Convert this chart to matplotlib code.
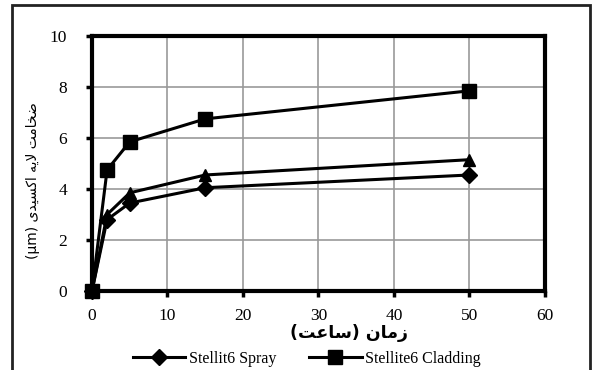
import matplotlib.pyplot as plt
from matplotlib.lines import Line2D
from matplotlib.patches import Rectangle

# oxidation time (h) and oxide layer thickness (um)
hours = [0, 2, 5, 15, 50]
spray = [0, 2.8, 3.45, 4.05, 4.55]
cladding = [0, 4.75, 5.85, 6.75, 7.85]
third = [0, 3.0, 3.85, 4.55, 5.15]

labels = ["Stellit6 Spray", "Stellite6 Cladding"]
xticks = [0, 10, 20, 30, 40, 50, 60]
yticks = [0, 2, 4, 6, 8, 10]

# persian labels written as shaped glyphs in visual order
xlabel = ("(\uFE96\uFECB\uFE8E\uFEB3) "
          "\uFEE5\uFE8E\uFEE3\uFEAF")
ylabel = ("(\u03bcm) "
          "\uFBFC\uFEAA\uFBFF\uFEB4\uFB90\uFE8D "
          "\uFEEA\uFBFE\uFEFB "
          "\uFE96\uFEE3\uFE8E\uFEA8\uFEBF")

serif = ["Liberation Serif", "DejaVu Serif"]

fig = plt.figure(figsize=(5.92, 3.70), dpi=100)
ax = fig.add_axes([0.1554, 0.2135, 0.7652, 0.6892])

ax.plot(hours, spray, color="black", lw=2.2, marker="D", ms=8, zorder=3)
ax.plot(hours, cladding, color="black", lw=2.2, marker="s", ms=10, zorder=3)
ax.plot(hours, third, color="black", lw=2.2, marker="^", ms=9, zorder=3)

ax.set_xlim(0, 60)
ax.set_ylim(0, 10)
ax.set_xticks(xticks)
ax.set_yticks(yticks)
ax.grid(True, color="#999999", lw=1.2)
ax.set_axisbelow(True)
for s in ax.spines.values():
    s.set_linewidth(3)
ax.tick_params(length=4, width=2.5, labelsize=12.5)
ax.tick_params(axis="x", pad=8)
ax.tick_params(axis="y", pad=14)
for t in ax.get_xticklabels() + ax.get_yticklabels():
    t.set_family(serif)
for c in ax.lines:
    c.set_clip_on(False)

fig.text(0.59, 0.1, xlabel, ha="center", va="center", fontsize=12.5,
         fontweight="bold", family="DejaVu Sans")
fig.text(0.056, 0.513, ylabel, ha="center", va="center", rotation=90,
         fontsize=10, family="DejaVu Sans")

handles = [Line2D([], [], color="black", lw=2.2, marker="D", ms=8),
           Line2D([], [], color="black", lw=2.2, marker="s", ms=10)]
leg = fig.legend(handles, labels, loc="center left", ncol=2,
                 bbox_to_anchor=(0.2, 0.03), frameon=False,
                 handlelength=3.3, handletextpad=0.25, columnspacing=2.0,
                 prop={"family": serif, "size": 11.5})

# outer frame around the chart
fig.patches.append(Rectangle((0.021, -0.05), 0.975, 1.036,
                             transform=fig.transFigure, fill=False,
                             lw=2, edgecolor="#222222"))

fig.savefig("out.png", dpi=100)
